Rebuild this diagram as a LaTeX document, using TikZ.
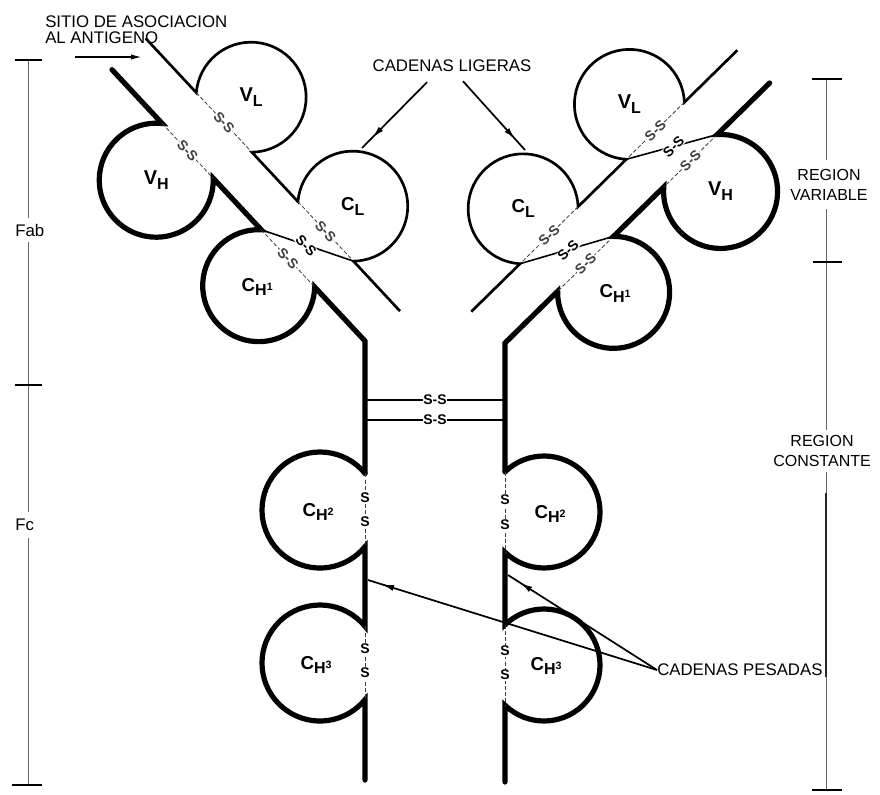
\documentclass[tikz,border=0pt]{standalone}
\usepackage{fontspec}
\setmainfont{Liberation Sans}
\usetikzlibrary{arrows.meta,decorations.markings,calc}

% domain labels: lowered subscript and small raised index
\newcommand\lowsub[1]{\raisebox{-0.45ex}{\fontsize{12}{12}\selectfont #1}}
\newcommand\hsup[1]{\raisebox{0.65ex}{\fontsize{8}{8}\selectfont #1}}
\newcommand\domC{{\fontsize{14}{14}\selectfont C}}

\tikzset{
  heavy/.style={line width=3.9pt, line cap=round, line join=miter},
  light/.style={line width=2pt},
  chord/.style={line width=0.6pt, black!75, dash pattern=on 3pt off 1.6pt},
  bond/.style={line width=1.2pt},
  ss/.style={font=\bfseries\fontsize{10.5}{10.5}\selectfont, fill=white, inner sep=0.4pt},
  dom/.style={font=\bfseries\fontsize{15}{15}\selectfont, inner sep=0pt},
  lbl/.style={font=\fontsize{12.6}{12}\selectfont, inner sep=0pt},
  axisline/.style={line width=0.6pt, black!60},
  axtick/.style={line width=1pt},
  ptr/.style={line width=1.3pt, postaction=decorate,
    decoration={markings, mark=at position -11pt with {\arrow{Latex[length=9pt,width=4.5pt]}}}},
}

% One Fab arm in its own frame: u runs along the arm towards the hinge,
% heavy chain edge at v=0, light chain edge at v=-46.
% #1 name prefix, #2 placement, #3 hinge coordinate, #4 angle of the
% S-S labels, #5 extra bonds
\newcommand\fabarm[5]{%
\begin{scope}[#2]
  % light chain: outer edge with V_L and C_L
  \draw[light] (-371,-46) -- (-296.68,-46)
    arc[start angle=137.72, end angle=402.28, radius=55] -- (-147.68,-46)
    arc[start angle=137.72, end angle=402.28, radius=55] -- (2,-46);
  % heavy chain: outer edge with V_H and C_H1, down to the hinge
  \draw[heavy] (-371,0) -- (-297.42,0)
    arc[start angle=228.97, end angle=-48.97, radius=57] -- (-152.19,0)
    arc[start angle=225.58, end angle=-45.58, radius=56] -- (0,0) -- (#3);
  % intrachain disulphide bridges
  \draw[chord] (-296.68,-46) -- node[ss, rotate=#4] (#1-ssvl) {S-S} (-215.32,-46);
  \draw[chord] (-147.68,-46) -- node[ss, rotate=#4] (#1-sscl) {S-S} (-66.32,-46);
  \draw[chord] (-297.42,0) -- node[ss, rotate=#4] (#1-ssvh) {S-S} (-222.58,0);
  \draw[chord] (-152.19,0) -- node[ss, rotate=#4] (#1-ssch) {S-S} (-73.81,0);
  % light-heavy bridge between C_H1 and C_L
  \draw[bond] (-152.19,0) -- (-66.32,-46);
  \node[ss, rotate=#4] (#1-ssc) at (-110,-22) {S-S};
  #5
  % domain names
  \node[dom] (#1-vl) at (-256,-83) {V\lowsub{L}};
  \node[dom] (#1-cl) at (-107,-83) {\domC\lowsub{L}};
  \node[dom] (#1-vh) at (-260,43) {V\lowsub{H}};
  \node[dom] (#1-ch) at (-113,42) {\domC\lowsub{H\hsup{1}}};
\end{scope}}

\begin{document}
\begin{tikzpicture}[x=0.75pt, y=-0.75pt]
\fill[white] (0,0) rectangle (880,794);
\useasboundingbox (0,0) rectangle (880,794);

% where the hinge meets the first Fc domain
\coordinate (Lh) at (365,473.4);
\coordinate (Rh) at (505,471.8);

\fabarm{L}{shift={(365,341)}, rotate=-47}{Lh}{-47}{}
\fabarm{R}{shift={(505,343)}, xscale=-1, rotate=-44.5}{Rh}{44.5}{%
  \draw[bond] (-215.32,-46) -- (-297.42,0);
  \node[ss, rotate=44.5] (R-ssv) at (-258,-22) {S-S};}

% Fc: heavy chains with C_H2 and C_H3
\draw[heavy] (Lh) arc[start angle=-39.12, end angle=-320.88, radius=58] -- (365,626.4)
  arc[start angle=-39.12, end angle=-320.88, radius=58] -- (365,780);
\draw[heavy] (Rh) arc[start angle=225.86, end angle=494.14, radius=56] -- (505,624.8)
  arc[start angle=225.86, end angle=494.14, radius=56] -- (505,782);

\draw[chord] (365,473.4) -- (365,546.6);
\draw[chord] (365,626.4) -- (365,699.6);
\draw[chord] (505,471.8) -- (505,552.2);
\draw[chord] (505,624.8) -- (505,705.2);
\node[ss] (sL2a) at (365,498) {S};
\node[ss] (sL2b) at (365,522) {S};
\node[ss] (sL3a) at (365,649) {S};
\node[ss] (sL3b) at (365,673) {S};
\node[ss] (sR2a) at (505,500) {S};
\node[ss] (sR2b) at (505,525) {S};
\node[ss] (sR3a) at (505,651) {S};
\node[ss] (sR3b) at (505,675) {S};

\node[dom] (lch2) at (318,512) {\domC\lowsub{H\hsup{2}}};
\node[dom] (lch3) at (316,665) {\domC\lowsub{H\hsup{3}}};
\node[dom] (rch2) at (550,514) {\domC\lowsub{H\hsup{2}}};
\node[dom] (rch3) at (546,666) {\domC\lowsub{H\hsup{3}}};

% hinge disulphide bridges
\coordinate (hbL1) at (365,400);
\coordinate (hbR1) at (505,400);
\coordinate (hbL2) at (365,420);
\coordinate (hbR2) at (505,420);
\draw[bond] (hbL1) -- node[ss] (hss1) {S-S} (hbR1);
\draw[bond] (hbL2) -- node[ss] (hss2) {S-S} (hbR2);

% captions and pointers
\node[lbl, anchor=west, align=left] (sitio) at (45,30) {SITIO DE ASOCIACION\\AL ANTIGENO};
\coordinate (sitA) at (75,57);
\coordinate (sitB) at (143,57);
\draw[line width=1.5pt, -{Latex[length=9pt,width=4pt]}] (sitA) -- (sitB);

\node[lbl] (lig) at (452,66) {CADENAS LIGERAS};
\coordinate (ligL) at (362,148);
\coordinate (ligR) at (525,150);
\draw[ptr] ($(lig.south)+(-25,10)$) -- (ligL);
\draw[ptr] ($(lig.south)+(11,9)$) -- (ligR);

\node[lbl, anchor=west] (pes) at (657,670) {CADENAS PESADAS};
\coordinate (pesL) at (368,580);
\coordinate (pesR) at (508,575);
\draw[ptr] (pes.west) -- (pesL);
\draw[ptr] (pes.west) -- (pesR);

% left scale: Fab / Fc
\draw[axisline] (28,60) -- (28,218);
\draw[axisline] (28,242) -- (28,512);
\draw[axisline] (28,538) -- (28,785);
\draw[axtick] (15,60) -- (42,60);
\draw[axtick] (15,385) -- (42,385);
\draw[axtick] (12,785) -- (42,785);
\node[lbl, anchor=west] (fab) at (15,230) {Fab};
\node[lbl, anchor=west] (fc) at (15,525) {Fc};

% right scale: variable / constant region
\draw[axisline] (826,79) -- (826,160);
\draw[axisline] (826,209) -- (826,430);
\draw[axisline] (826,472) -- (826,790);
\draw[line width=0.9pt, black!85] (826,493) -- (826,677);
\draw[axtick] (812,79) -- (842,79);
\draw[axtick] (813,262) -- (842,262);
\draw[axtick] (812,790) -- (842,790);
\node[lbl, align=center, font=\fontsize{12}{15}\selectfont] (rvar) at (829,185) {REGION\\VARIABLE};
\node[lbl, align=center, font=\fontsize{12}{15}\selectfont] (rcon) at (822,451) {REGION\\CONSTANTE};
\end{tikzpicture}
\end{document}
